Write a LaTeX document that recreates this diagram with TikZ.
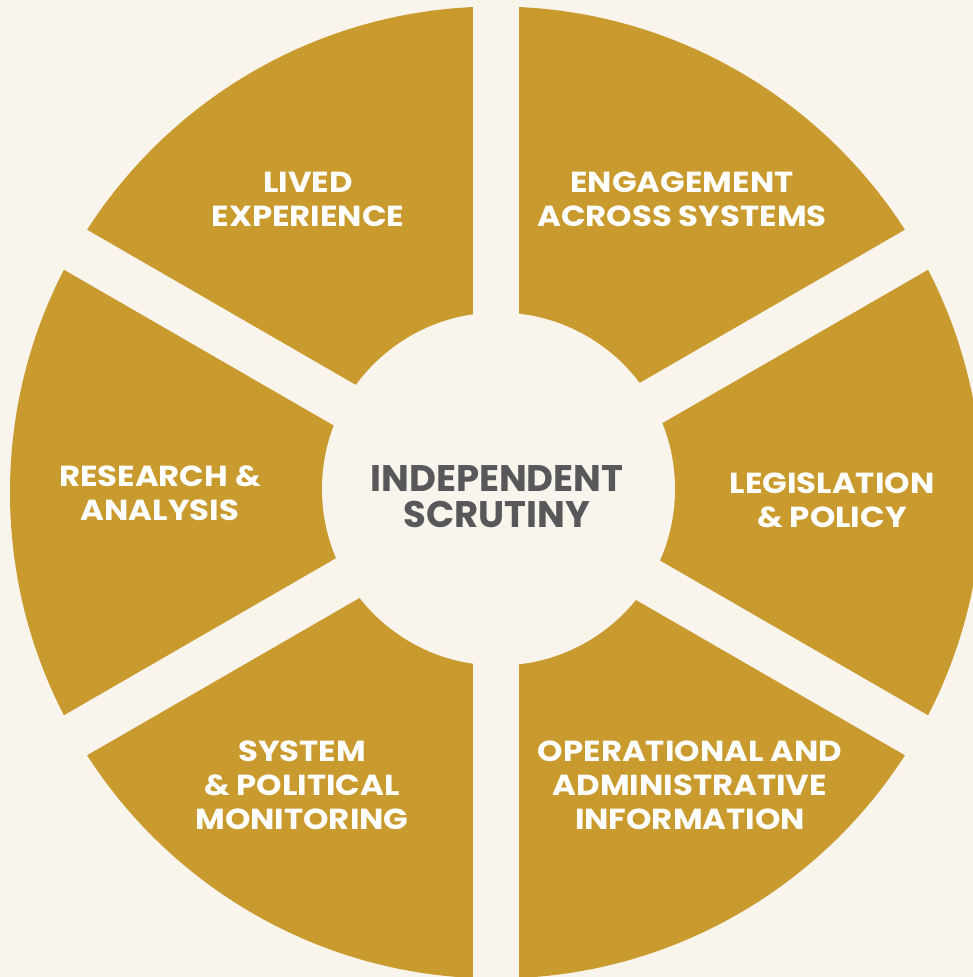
\documentclass[tikz,border=0pt]{standalone}
\usepackage{fontspec}
\setmainfont{Poppins}
\newfontfamily\segfont{Poppins}[FakeStretch=1.115]
\definecolor{bg}{HTML}{F9F5EC}
\definecolor{gold}{HTML}{C99A2E}
\definecolor{txtgray}{HTML}{58585B}
\begin{document}
\begin{tikzpicture}[x=1pt,y=-1pt,
 seglabel/.style={text=white,font=\segfont\fontsize{29}{34}\selectfont\bfseries,align=center,inner sep=0pt},
 centerlabel/.style={text=txtgray,font=\fontsize{37}{36}\selectfont\bfseries,align=center,inner sep=0pt}]
\fill[bg] (0,0) rectangle (973,977);
\useasboundingbox (0,0) rectangle (973,977);
\begin{scope}
\clip (0,0) rectangle (973,977);
\coordinate (c) at (496,492.5);
\fill[gold] (c) circle (486);
\foreach \a in {90,30,150} \draw[bg,line width=46pt] ([shift={(\a:700)}]c) -- ([shift={(\a+180:700)}]c);
\fill[bg] (498.5,489) circle (176.5);
\end{scope}
\node[seglabel] (lived) at (308,199) {LIVED\\EXPERIENCE};
\node[seglabel] (engage) at (682,199) {ENGAGEMENT\\ACROSS SYSTEMS};
\node[seglabel] (research) at (160,493) {RESEARCH \&\\ANALYSIS};
\node[seglabel] (legis) at (832,500) {LEGISLATION\\\& POLICY};
\node[seglabel] (system) at (302,785) {SYSTEM\\\& POLITICAL\\MONITORING};
\node[seglabel] (oper) at (690,785) {OPERATIONAL AND\\ADMINISTRATIVE\\INFORMATION};
\node[centerlabel] (indep) at (497,497) {INDEPENDENT\\SCRUTINY};
\end{tikzpicture}
\end{document}
